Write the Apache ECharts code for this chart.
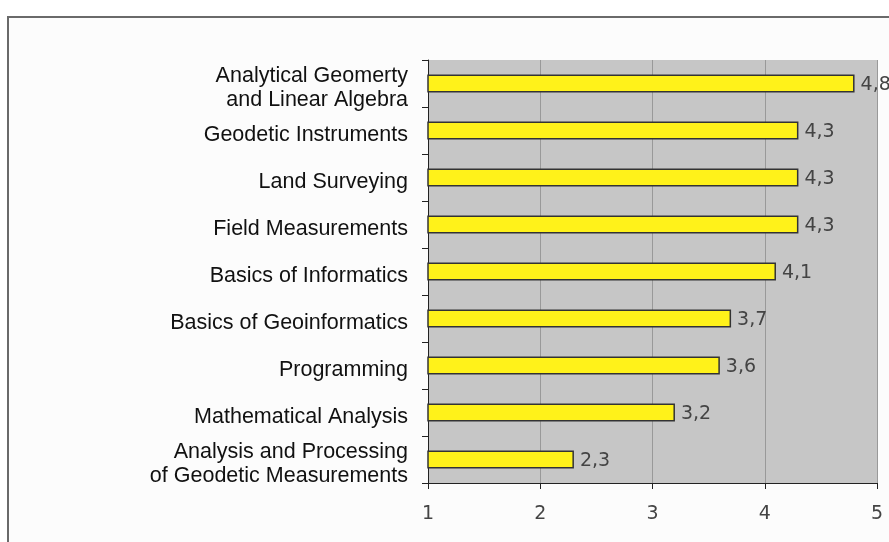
<!DOCTYPE html>
<html><head><meta charset="utf-8">
<script src="https://cdn.jsdelivr.net/npm/echarts@6/dist/echarts.min.js"></script>
<style>html,body{margin:0;padding:0;background:#fff}#c{width:889px;height:542px}</style>
</head><body><div id="c"></div>
<script>
const categories = [
  "Analytical Geomerty\nand Linear Algebra",
  "Geodetic Instruments",
  "Land Surveying",
  "Field Measurements",
  "Basics of Informatics",
  "Basics of Geoinformatics",
  "Programming",
  "Mathematical Analysis",
  "Analysis and Processing\nof Geodetic Measurements"
];
const values = [4.8, 4.3, 4.3, 4.3, 4.1, 3.7, 3.6, 3.2, 2.3];
const xTicks = [1, 2, 3, 4, 5];

const chart = echarts.init(document.getElementById('c'), null, {renderer: 'canvas'});
chart.setOption({
  animation: false,
  backgroundColor: '#ffffff',
  graphic: [{
    type: 'rect', z: -10, silent: true,
    shape: {x: 8, y: 17, width: 900, height: 560},
    style: {fill: '#fcfcfc', stroke: '#6a6a6a', lineWidth: 2}
  }],
  grid: {left: 428, right: 12, top: 60, bottom: 59, show: true, backgroundColor: '#c6c6c6', borderWidth: 0},
  xAxis: {
    type: 'value', min: xTicks[0], max: xTicks[xTicks.length - 1], interval: 1,
    axisLine: {show: true, lineStyle: {color: '#222', width: 1}},
    axisTick: {show: true, length: 6, lineStyle: {color: '#222'}},
    axisLabel: {color: '#444', fontSize: 19, fontFamily: 'DejaVu Sans', margin: 22},
    splitLine: {show: true, lineStyle: {color: '#999', width: 1}}
  },
  yAxis: {
    type: 'category', data: categories, inverse: true,
    axisLine: {show: true, lineStyle: {color: '#222', width: 1}},
    axisTick: {show: true, length: 6, inside: false, lineStyle: {color: '#222'}},
    axisLabel: {
      color: '#111', fontSize: 21.5, fontFamily: 'Liberation Sans, Arial', margin: 20, align: 'right',
      formatter: v => '{s|}\n' + v.split('\n').map(l => '{a|' + l + '}').join('\n'),
      rich: {
        s: {lineHeight: 10, height: 10, fontSize: 1},
        a: {lineHeight: 24, fontSize: 21.5, color: '#111', fontFamily: 'Liberation Sans, Arial', align: 'right'}
      }
    },
    splitLine: {show: false}
  },
  series: [{
    type: 'bar', data: values, barWidth: 18,
    itemStyle: {color: '#fff21a', borderColor: '#333', borderWidth: 1.5},
    label: {
      show: true, position: 'right', distance: 6, color: '#444', fontSize: 19,
      fontFamily: 'DejaVu Sans', offset: [0, 2],
      formatter: p => String(p.value).replace('.', ',')
    }
  }]
});
</script></body></html>
